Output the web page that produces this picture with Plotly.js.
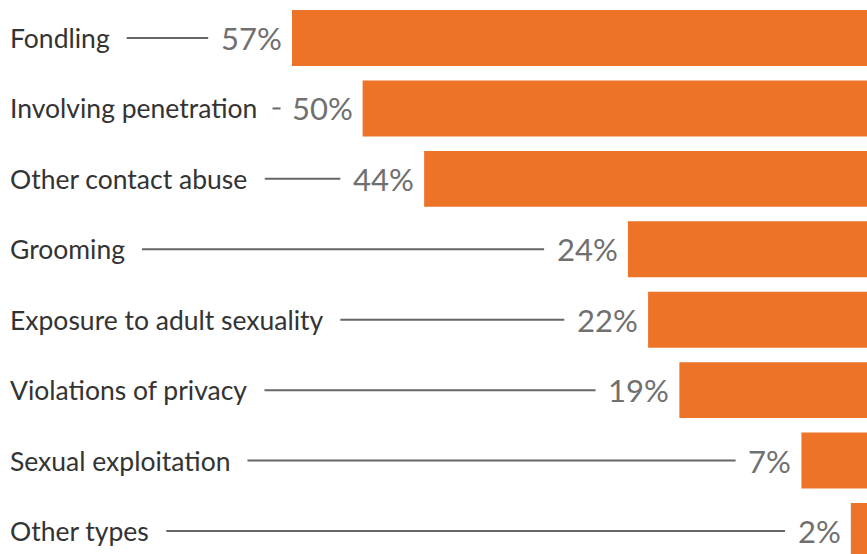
<!DOCTYPE html>
<html>
<head>
<meta charset="utf-8">
<script src="https://cdn.plot.ly/plotly-3.0.1.min.js"></script>
<style>html,body{margin:0;padding:0;background:#fff;}#chart{width:867px;height:554px;}</style>
</head>
<body>
<div id="chart"></div>
<script>
const categories = ['Fondling', 'Involving penetration', 'Other contact abuse', 'Grooming',
  'Exposure to adult sexuality', 'Violations of privacy', 'Sexual exploitation', 'Other types'];
const values = [57.0, 50.0, 43.9, 23.7, 21.7, 18.6, 6.5, 1.6];
const valueLabels = ['57%', '50%', '44%', '24%', '22%', '19%', '7%', '2%'];

const W = 867, H = 554;
const pxPerUnit = 10.088;
const xMax = W / pxPerUnit;
const labelFont = 26.5, valueFont = 31;
const FONT = 'Lato, "Open Sans", sans-serif';

const canvas = document.createElement('canvas');
const ctx = canvas.getContext('2d');
function textW(t, size, weight) { ctx.font = (weight || 400) + ' ' + size + 'px Lato'; return ctx.measureText(t).width; }
function pxToData(p) { return xMax * (1 - p / W); }

const idx = categories.map((_, i) => i);
const annotations = [];
const shapes = [];
categories.forEach((c, i) => {
  annotations.push({xref: 'paper', yref: 'y', x: 0, y: i, xanchor: 'left', yanchor: 'middle',
    xshift: 8, text: c, showarrow: false, font: {family: FONT, size: labelFont, color: '#333', weight: 400}});
  annotations.push({xref: 'x', yref: 'y', x: values[i], y: i, xanchor: 'right', yanchor: 'middle',
    xshift: -8, text: valueLabels[i], showarrow: false, font: {family: FONT, size: valueFont, color: '#707070', weight: 400}});
  const barPx = W - values[i] * pxPerUnit;
  const valLeft = barPx - 10 - textW(valueLabels[i], valueFont, 400);
  const labRight = 10 + textW(c, labelFont, 400);
  let s = labRight + 17, e = valLeft - 13;
  if (e - s < 8) { const m = (s + e) / 2; s = m - 4; e = m + 4; }
  shapes.push({type: 'line', xref: 'x', yref: 'y', x0: pxToData(s), x1: pxToData(e),
    y0: i, y1: i, line: {color: '#666', width: 2}});
});

const trace = {type: 'bar', orientation: 'h', y: idx, x: values, width: 0.795,
  marker: {color: '#ED7329'}, hoverinfo: 'skip'};

Plotly.newPlot('chart', [trace], {
  width: W, height: H, margin: {l: 0, r: 0, t: 0, b: 0},
  paper_bgcolor: '#fff', plot_bgcolor: '#fff', showlegend: false,
  xaxis: {range: [xMax, 0], visible: false, fixedrange: true},
  yaxis: {range: [7.327, -0.54], visible: false, fixedrange: true},
  annotations: annotations, shapes: shapes
}, {staticPlot: true});
</script>
</body>
</html>
